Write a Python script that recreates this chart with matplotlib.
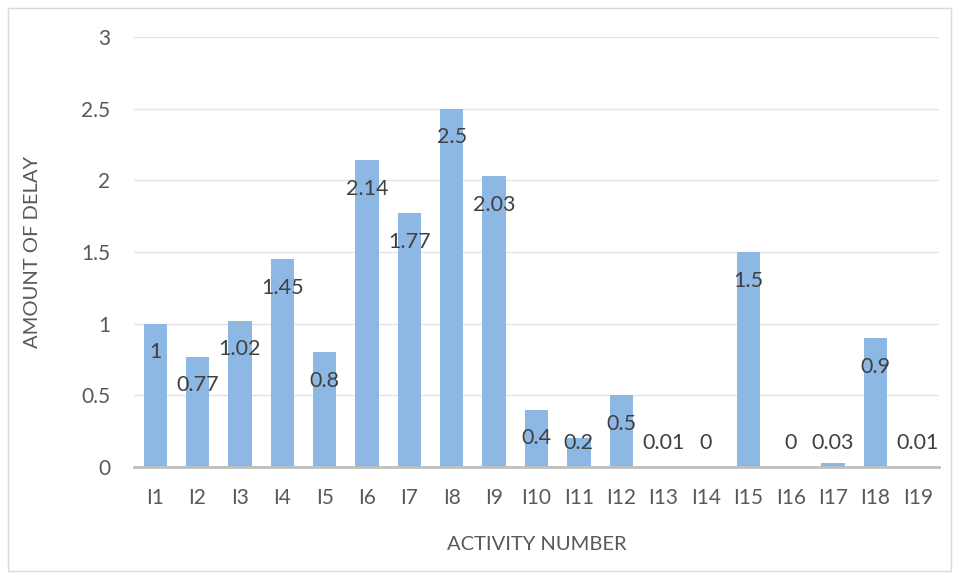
import matplotlib.pyplot as plt
from matplotlib.patches import Rectangle
import numpy as np

activities = ['I1', 'I2', 'I3', 'I4', 'I5', 'I6', 'I7', 'I8', 'I9', 'I10',
              'I11', 'I12', 'I13', 'I14', 'I15', 'I16', 'I17', 'I18', 'I19']
delay = [1, 0.77, 1.02, 1.45, 0.8, 2.14, 1.77, 2.5, 2.03, 0.4,
         0.2, 0.5, 0.01, 0, 1.5, 0, 0.03, 0.9, 0.01]
delay_text = ['1', '0.77', '1.02', '1.45', '0.8', '2.14', '1.77', '2.5', '2.03', '0.4',
              '0.2', '0.5', '0.01', '0', '1.5', '0', '0.03', '0.9', '0.01']

plt.rcParams['font.family'] = ['Lato', 'DejaVu Sans']

fig = plt.figure(figsize=(9.59, 5.79), dpi=100)
ax = fig.add_axes([134 / 959, 1 - 467 / 579, (939 - 134) / 959, (467 - 37) / 579])

x = np.arange(len(activities))
ax.bar(x, delay, width=0.55, color='#8DB8E3', zorder=2)

# labels sit just inside the top of each bar, but never below the axis
for xi, v, t in zip(x, delay, delay_text):
    ax.text(xi, max(v - 0.2, 0.17), t, ha='center', va='center',
            fontsize=15.5, color='#404040', zorder=3)

ax.set_xlim(-0.5, len(activities) - 0.5)
ax.set_ylim(0, 3)
ax.set_yticks(np.arange(0, 3.01, 0.5))
ax.set_yticklabels(['0', '0.5', '1', '1.5', '2', '2.5', '3'])
ax.set_xticks(x)
ax.set_xticklabels(activities)
ax.yaxis.grid(True, color='#E3E3E3', linewidth=1, zorder=0)
ax.tick_params(length=0, labelsize=15, labelcolor='#595959')
ax.tick_params(axis='x', pad=15)
ax.tick_params(axis='y', pad=17)
for s in ['top', 'right', 'left']:
    ax.spines[s].set_visible(False)
ax.spines['bottom'].set_color('#BFBFBF')
ax.spines['bottom'].set_linewidth(2)
ax.spines['bottom'].set_zorder(4)

ax.set_xlabel('ACTIVITY NUMBER', fontsize=14.5, color='#595959', labelpad=20)
ax.set_ylabel('AMOUNT OF DELAY', fontsize=14.5, color='#595959', labelpad=29)

fig.patches.append(Rectangle((8 / 959, 8 / 579), 943 / 959, 563 / 579,
                             transform=fig.transFigure, fill=False,
                             edgecolor='#D9D9D9', linewidth=1))

fig.savefig('out.png', dpi=100)
